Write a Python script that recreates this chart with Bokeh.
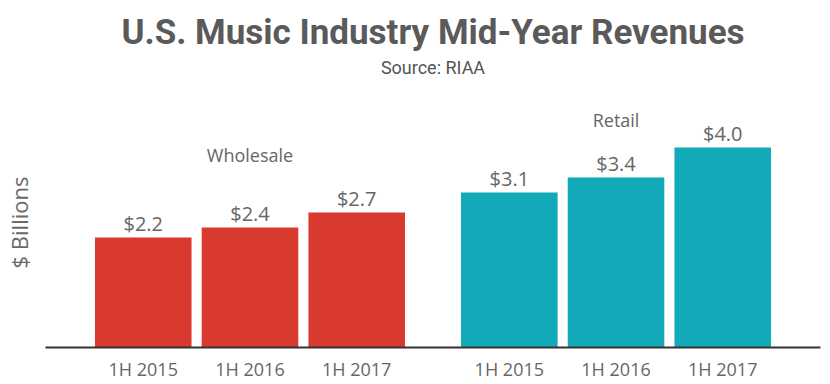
from bokeh.plotting import figure
from bokeh.models import FactorRange, ColumnDataSource, Title, Range1d, FixedTicker
from bokeh.embed import file_html
from bokeh.resources import INLINE
from bokeh.core.properties import value

groups = ["Wholesale", "Retail"]
periods = ["1H 2015", "1H 2016", "1H 2017"]
wholesale = [2.2, 2.4, 2.7]
retail = [3.1, 3.4, 4.0]
group_colors = ["#d83a30", "#12a9b8"]
group_label_y = [3.86, 4.55]

factors = [(g, p) for g in groups for p in periods]
vals = wholesale + retail
labels = ["$%.1f" % v for v in vals]
cols = [group_colors[groups.index(g)] for g, _ in factors]
src = ColumnDataSource(dict(x=factors, v=vals, label=labels, color=cols))

xr = FactorRange(*factors, factor_padding=0.0, group_padding=0.43,
                 range_padding=0.416, range_padding_units="absolute")

p = figure(x_range=xr, y_range=Range1d(0, 5), frame_width=775, frame_height=250,
           output_backend="svg", toolbar_location=None, title=None,
           min_border_left=45, min_border_right=2, min_border_top=97, min_border_bottom=0,
           outline_line_color=None, background_fill_color="white")

p.add_layout(Title(text="Source: RIAA", align="center", text_font="Roboto",
                   text_font_size="18px", text_font_style="normal", text_color="#555555",
                   standoff=40), "above")
p.add_layout(Title(text="U.S. Music Industry Mid-Year Revenues", align="center",
                   text_font="Roboto", text_font_size="35px", text_font_style="bold",
                   text_color="#5a5a5a", standoff=-36), "above")

p.vbar(x="x", top="v", width=0.905, source=src, color="color", line_color=None)

p.text(x="x", y="v", text="label", source=src, y_offset=-1, text_align="center",
       text_baseline="bottom", text_font=value("Open Sans"), text_font_size="20px",
       text_color="#666666")

p.text(x=groups, y=group_label_y, text=groups, text_align="center", text_baseline="middle",
       text_font=value("Open Sans"), text_font_size="18px", text_color="#666666")

p.xgrid.grid_line_color = None
p.ygrid.grid_line_color = None

xa = p.xaxis[0]
xa.axis_line_color = "#333333"
xa.axis_line_width = 2
xa.major_tick_line_color = None
xa.minor_tick_line_color = None
xa.major_tick_out = 0
xa.major_tick_in = 0
xa.major_label_text_font = "Open Sans"
xa.major_label_text_font_size = "18px"
xa.major_label_text_color = "#666666"
xa.major_label_standoff = 9
xa.group_text_color = None
xa.separator_line_color = None

ya = p.yaxis[0]
ya.ticker = FixedTicker(ticks=[])
ya.axis_label = "$ Billions"
ya.axis_label_text_font = "Open Sans"
ya.axis_label_text_font_size = "22px"
ya.axis_label_text_font_style = "normal"
ya.axis_label_text_color = "#6a6a6a"
ya.axis_line_color = None
ya.major_tick_line_color = None
ya.minor_tick_line_color = None
ya.major_tick_out = 0
ya.axis_label_standoff = 12

open("out.html", "w").write(file_html(p, INLINE))
